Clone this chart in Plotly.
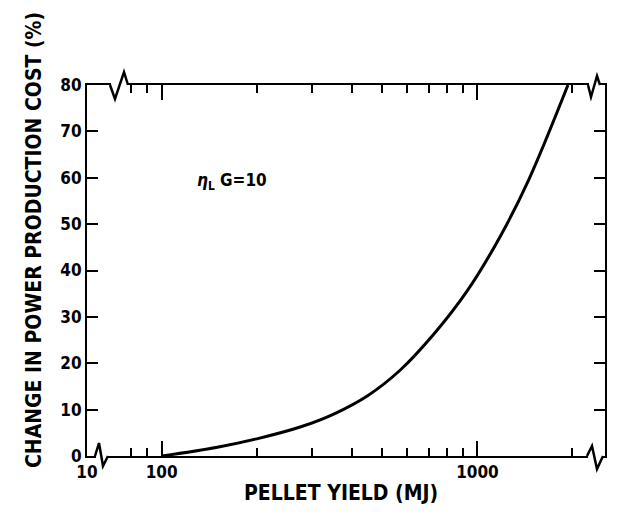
import numpy as np
import plotly.graph_objects as go

# ---- data ----
pellet_yield = [100, 150, 200, 276, 352, 449, 571, 728, 928, 1182, 1452, 1935]
cost_change = [0, 1.9, 3.7, 6.3, 9.1, 13.0, 18.6, 26.3, 35.6, 47.4, 59.5, 80.0]

x_tick_vals = [58, 100, 1000]
x_tick_text = ["10", "100", "1000"]
x_minor_vals = [80, 90, 200, 300, 400, 500, 600, 700, 800, 900, 2000]
y_tick_vals = [0, 10, 20, 30, 40, 50, 60, 70, 80]

FONT = "Liberation Sans Narrow, DejaVu Sans Condensed, Arial Narrow, DejaVu Sans, sans-serif"

OFF = 8  # default page body margin
W, H = 625 - OFF, 526 - OFF
# plot area in page pixels: left 87, right 605, top 85, bottom 456
PL, PR, PT, PB = 87, 605, 85, 456
L, T = PL - OFF, PT - OFF
R = W - (PR - OFF)
B = H - (PB - OFF)
PW, PH = PR - PL, PB - PT

fig = go.Figure()
fig.add_trace(go.Scatter(
    x=pellet_yield, y=cost_change, mode="lines",
    line=dict(color="black", width=3, shape="spline", smoothing=1.0),
    hoverinfo="skip", showlegend=False,
))


def px2paper(px, py):
    return (px - PL) / PW, (PB - py) / PH


def squiggle(points):
    d = ""
    for i, (px, py) in enumerate(points):
        xp, yp = px2paper(px, py)
        d += ("M" if i == 0 else "L") + f"{xp:.5f},{yp:.5f} "
    return d.strip()


shapes = []
breaks = [
    [(95, 456), (99, 443), (103, 466), (108, 456)],   # bottom-left
    [(110, 85), (115, 99), (124, 72), (128, 85)],     # top-left
    [(587, 456), (592, 446), (597, 469), (603, 456)], # bottom-right
    [(588, 85), (591, 97), (597, 76), (600, 85)],     # top-right
]
for pts in breaks:
    x0, y0 = px2paper(pts[0][0] + 1, pts[0][1])
    x1, _ = px2paper(pts[-1][0] - 1, pts[0][1])
    shapes.append(dict(type="line", xref="paper", yref="paper",
                       x0=x0, x1=x1, y0=y0, y1=y0,
                       line=dict(color="white", width=4)))
    shapes.append(dict(type="path", xref="paper", yref="paper",
                       path=squiggle(pts), line=dict(color="black", width=2.5)))

tx_title = px2paper(20, 240)
tx_xtitle = px2paper(341, 507)
tx_eta = px2paper(195, 168)

fig.update_layout(
    width=W, height=H,
    margin=dict(l=L, r=R, t=T, b=B, pad=0),
    paper_bgcolor="white", plot_bgcolor="white",
    font=dict(family=FONT, color="black", size=17),
    shapes=shapes,
    xaxis=dict(
        type="log", range=[np.log10(58), np.log10(2535)],
        tickmode="array", tickvals=x_tick_vals, ticktext=x_tick_text,
        ticks="inside", ticklen=15, tickwidth=2, tickcolor="black",
        minor=dict(tickmode="array", tickvals=x_minor_vals, ticks="inside",
                   ticklen=8, tickwidth=2, tickcolor="black"),
        showline=True, linecolor="black", linewidth=2, mirror="ticks",
        showgrid=False, zeroline=False,
        tickfont=dict(family=FONT, size=17, color="black", weight="bold"),
    ),
    yaxis=dict(
        range=[0, 80], tickmode="array", tickvals=y_tick_vals,
        ticks="inside", ticklen=11, tickwidth=2, tickcolor="black",
        showline=True, linecolor="black", linewidth=2, mirror="ticks",
        showgrid=False, zeroline=False,
        tickfont=dict(family=FONT, size=17, color="black", weight="bold"),
    ),
    annotations=[
        dict(text="CHANGE IN POWER PRODUCTION COST (%)", textangle=-90,
             xref="paper", yref="paper", x=tx_title[0], y=tx_title[1],
             showarrow=False, font=dict(family=FONT, size=21, weight="bold")),
        dict(text="PELLET YIELD (MJ)",
             xref="paper", yref="paper", x=tx_xtitle[0], y=tx_xtitle[1],
             showarrow=False, font=dict(family=FONT, size=21, weight="bold")),
        dict(text="<i>η</i><sub>L</sub> G=10",
             xref="paper", yref="paper", x=tx_eta[0], y=tx_eta[1],
             xanchor="left", showarrow=False,
             font=dict(family=FONT, size=17, weight="bold")),
    ],
)

fig.write_html("out.html")
